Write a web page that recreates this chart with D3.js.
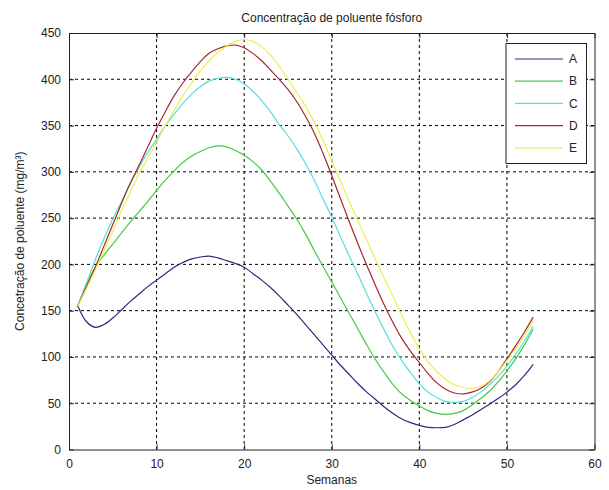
<!DOCTYPE html>
<html>
<head>
<meta charset="utf-8">
<script src="https://cdn.jsdelivr.net/npm/d3@7"></script>
<style>
  body { margin: 0; background: #fff; }
  svg { display: block; font-family: "Liberation Sans", Arial, sans-serif; }
</style>
</head>
<body>
<svg width="609" height="490"></svg>
<script>
const weeks = d3.range(1, 54);

const serieA = [155, 138, 132, 135, 142, 151, 160, 168, 176, 183,
  190, 197, 202, 206, 208, 209, 207, 204, 201, 197,
  190, 183, 175, 166, 156, 146, 135, 124, 113, 102,
  91, 81, 71, 62, 54, 46, 39, 33, 29, 26,
  24, 23.5, 24, 27, 32, 37, 43, 49, 55, 62,
  70, 80, 92];
const serieB = [155, 178, 197, 210, 222, 234, 246, 257, 268, 280,
  291, 301, 310, 317, 322, 326, 328, 327, 323, 318,
  311, 302, 290, 277, 263, 249, 233, 215, 198, 181,
  164, 147, 130, 113, 97, 83, 70, 60, 53, 47,
  42, 39, 38, 39, 42, 48, 55, 63, 73, 85,
  98, 113, 130];
const serieC = [155, 180, 205, 228, 249, 268, 287, 305, 321, 335,
  350, 362, 374, 384, 392, 398, 401, 402, 400, 395,
  387, 377, 365, 351, 339, 325, 309, 291, 271, 251,
  230, 209, 189, 168, 148, 129, 111, 96, 83, 71,
  62, 56, 52, 51, 52, 56, 62, 70, 79, 90,
  103, 117, 133];
const serieD = [155, 176, 197, 220, 243, 266, 288, 307, 327, 347,
  365, 382, 396, 408, 419, 428, 433, 436, 437, 434,
  428, 420, 410, 400, 389, 376, 360, 342, 320, 296,
  271, 246, 222, 199, 177, 156, 137, 120, 106, 94,
  82, 72, 65, 61, 60, 62, 66, 73, 84, 98,
  112, 127, 143];
const serieE = [155, 174, 194, 215, 236, 258, 278, 298, 315, 332,
  350, 366, 382, 396, 409, 420, 429, 436, 441, 443,
  441, 435, 426, 414, 400, 386, 371, 354, 334, 312,
  290, 268, 247, 226, 205, 185, 165, 145, 126, 109,
  95, 84, 76, 70, 67, 66, 68, 74, 84, 96,
  109, 123, 139];

const labels = ['A', 'B', 'C', 'D', 'E'];
const colors = ['#2b2b7c', '#44cc44', '#55dede', '#a82828', '#eeee4c'];
const series = [serieA, serieB, serieC, serieD, serieE];

const xTicks = [0, 10, 20, 30, 40, 50, 60];
const yTicks = [0, 50, 100, 150, 200, 250, 300, 350, 400, 450];

const svg = d3.select('svg');
const box = { left: 69, right: 594.5, top: 33, bottom: 449.5 };

const x = d3.scaleLinear().domain([0, 60]).range([box.left, box.right]);
const y = d3.scaleLinear().domain([0, 450]).range([box.bottom, box.top]);

// grid
svg.append('g')
  .selectAll('line')
  .data(xTicks.slice(1, -1))
  .enter().append('line')
  .attr('x1', d => x(d)).attr('x2', d => x(d))
  .attr('y1', box.top).attr('y2', box.bottom)
  .attr('stroke', '#000').attr('stroke-width', 1)
  .attr('stroke-dasharray', '3,3');

svg.append('g')
  .selectAll('line')
  .data(yTicks.slice(1, -1))
  .enter().append('line')
  .attr('x1', box.left).attr('x2', box.right)
  .attr('y1', d => y(d)).attr('y2', d => y(d))
  .attr('stroke', '#000').attr('stroke-width', 1)
  .attr('stroke-dasharray', '3,3');

// axes, ticks inward
const xAxis = svg.append('g')
  .attr('transform', `translate(0,${box.bottom})`)
  .call(d3.axisBottom(x).tickValues(xTicks).tickSizeInner(-5).tickSizeOuter(0).tickPadding(10));
const xTop = svg.append('g')
  .attr('transform', `translate(0,${box.top})`)
  .call(d3.axisTop(x).tickValues(xTicks).tickSizeInner(-5).tickSizeOuter(0).tickFormat(''));
const yAxis = svg.append('g')
  .attr('transform', `translate(${box.left},0)`)
  .call(d3.axisLeft(y).tickValues(yTicks).tickSizeInner(-5).tickSizeOuter(0).tickPadding(8));
const yRight = svg.append('g')
  .attr('transform', `translate(${box.right},0)`)
  .call(d3.axisRight(y).tickValues(yTicks).tickSizeInner(-5).tickSizeOuter(0).tickFormat(''));

[xAxis, xTop, yAxis, yRight].forEach(g => {
  g.select('.domain').attr('stroke', '#222');
  g.selectAll('.tick line').attr('stroke', '#222');
  g.selectAll('text').attr('font-size', 12).attr('fill', '#222')
    .attr('font-family', '"Liberation Sans", Arial, sans-serif');
});

// curves
const line = d3.line()
  .x((d, i) => x(weeks[i]))
  .y(d => y(d))
  .curve(d3.curveCatmullRom);

svg.append('g')
  .selectAll('path')
  .data(series)
  .enter().append('path')
  .attr('d', line)
  .attr('fill', 'none')
  .attr('stroke', (d, i) => colors[i])
  .attr('stroke-width', 1.2);

// legend
const legend = svg.append('g');
legend.append('rect')
  .attr('x', 506).attr('y', 43.5)
  .attr('width', 80.5).attr('height', 120)
  .attr('fill', '#fff').attr('stroke', '#222');

const rows = legend.selectAll('g')
  .data(labels)
  .enter().append('g')
  .attr('transform', (d, i) => `translate(0,${59 + i * 22.2})`);
rows.append('line')
  .attr('x1', 515).attr('x2', 563)
  .attr('stroke', (d, i) => colors[i]).attr('stroke-width', 1.2);
rows.append('text')
  .attr('x', 569).attr('dy', '0.35em')
  .attr('font-size', 12).attr('fill', '#222')
  .text(d => d);

// titles
svg.append('text')
  .attr('x', (box.left + box.right) / 2).attr('y', 22)
  .attr('text-anchor', 'middle').attr('font-size', 12).attr('fill', '#222')
  .text('Concentração de poluente fósforo');

svg.append('text')
  .attr('x', (box.left + box.right) / 2).attr('y', 484)
  .attr('text-anchor', 'middle').attr('font-size', 12).attr('fill', '#222')
  .text('Semanas');

svg.append('text')
  .attr('transform', `translate(24,${(box.top + box.bottom) / 2}) rotate(-90)`)
  .attr('text-anchor', 'middle').attr('font-size', 12).attr('fill', '#222')
  .text('Concetração de poluente (mg/m³)');
</script>
</body>
</html>
